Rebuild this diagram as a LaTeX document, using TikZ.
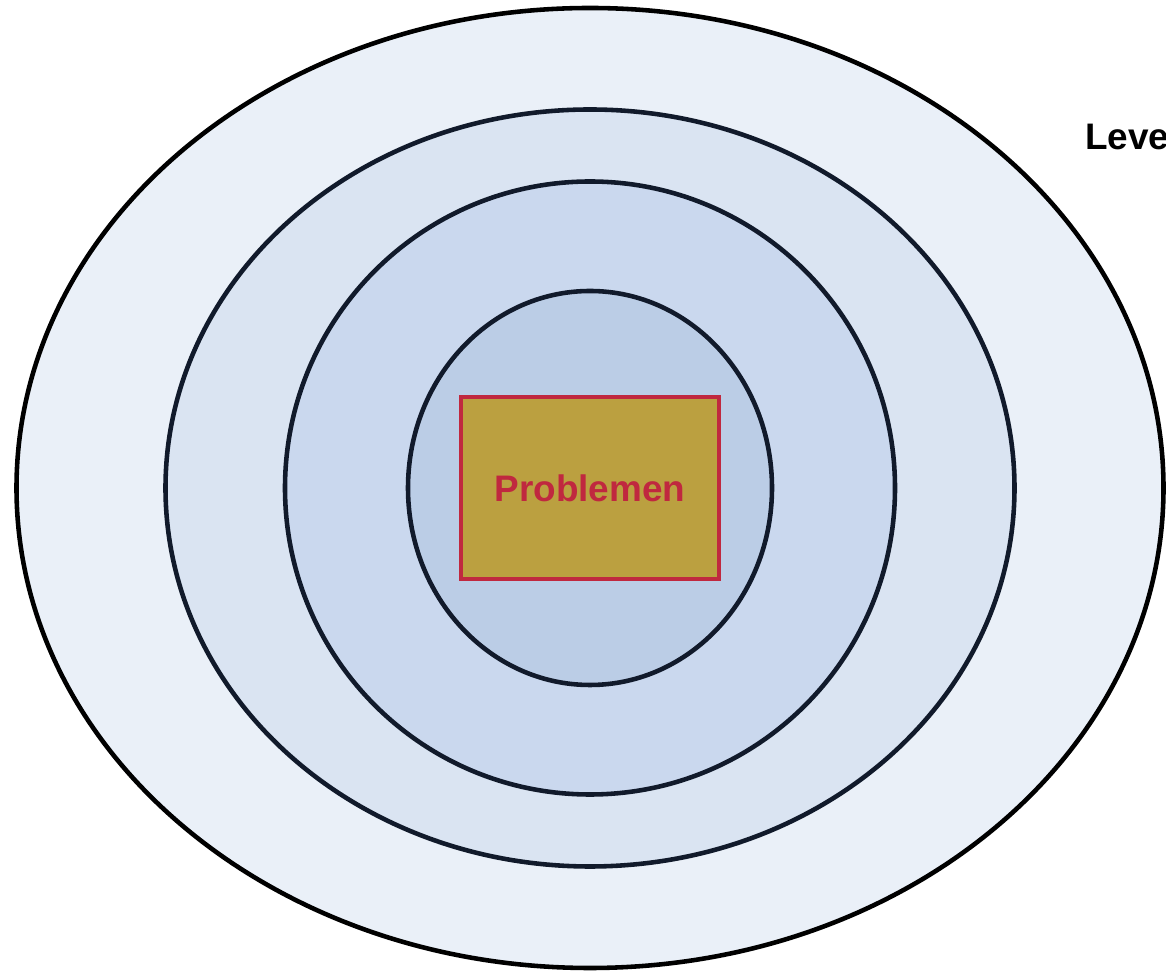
\documentclass[tikz,border=0pt]{standalone}
\usepackage{fontspec}
\setmainfont{Liberation Sans}
\usetikzlibrary{shapes.geometric, positioning}
\definecolor{ringA}{HTML}{EAF0F8}
\definecolor{ringB}{HTML}{DAE4F2}
\definecolor{ringC}{HTML}{CAD8EE}
\definecolor{ringD}{HTML}{BBCDE6}
\definecolor{ringline}{HTML}{111A2B}
\definecolor{probfill}{HTML}{BBA040}
\definecolor{probred}{HTML}{C0283F}

\begin{document}
\begin{tikzpicture}[ring/.style={ellipse,draw=ringline,line width=2.6pt,inner sep=0pt}]
    \useasboundingbox (0,0) rectangle (23.32,19.46);
    \coordinate (c) at (11.8,9.7);

    \node[ring,draw=black,fill=ringA,minimum width=22.94cm,minimum height=19.2cm] (outer) at (c) {};
    \node[ring,fill=ringB,minimum width=16.98cm,minimum height=15.14cm] (second) at (c) {};
    \node[ring,fill=ringC,minimum width=12.2cm,minimum height=12.26cm] (third) at (c) {};
    \node[ring,fill=ringD,minimum width=7.28cm,minimum height=7.88cm] (inner) at (c) {};

    \node[draw=probred,fill=probfill,line width=2.3pt,minimum width=5.16cm,minimum height=3.64cm,
          text=probred,font=\bfseries\fontsize{21}{25}\selectfont] (prob) at (c) {Problemen};

    \node[anchor=base west,inner sep=0pt,font=\bfseries\fontsize{21}{25}\selectfont] (level) at (21.7,16.46) {Leve};
  \end{tikzpicture}
\end{document}
